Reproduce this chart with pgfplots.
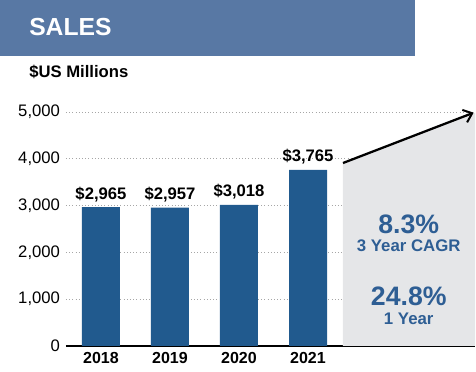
\documentclass[border=0pt]{standalone}
\usepackage{pgfplots}
\pgfplotsset{compat=1.18}
\usepackage{fontspec}
\setmainfont{Liberation Sans}
\usetikzlibrary{arrows.meta}
\definecolor{banner}{HTML}{5878A4}
\definecolor{barblue}{HTML}{215A8E}
\definecolor{graybg}{HTML}{E5E6E8}
\definecolor{txtblue}{HTML}{2E5E94}
\begin{document}
\begin{tikzpicture}
\path[use as bounding box] (0pt,0pt) rectangle (357pt,279pt);
\fill[banner] (0pt,279pt) rectangle (311.25pt,237pt);
\node[anchor=west,text=white,font=\fontsize{18.5}{22}\selectfont\bfseries,inner sep=0pt] at (21.75pt,258.75pt) {SALES};
\node[anchor=west,font=\fontsize{12.5}{14}\selectfont\bfseries,inner sep=0pt] at (21.75pt,225pt) {\$US Millions};
\begin{axis}[
  at={(49.5pt,19.5pt)}, anchor=south west,
  scale only axis, width=306.75pt, height=175.5pt,
  xmin=-0.507, xmax=5.42, ymin=0, ymax=5000,
  axis x line*=bottom, axis y line*=left,
  x axis line style={line width=1.6pt,-},
  y axis line style={draw=none},
  major tick length=0pt,
  xtick={0,1,2,3}, xticklabels={2018,2019,2020,2021},
  xticklabel style={font=\fontsize{12}{14}\selectfont\bfseries, yshift=-1pt},
  ytick={0,1000,2000,3000,4000,5000},
  yticklabel style={font=\fontsize{12.5}{14}\selectfont, xshift=-1pt},
  /pgf/number format/assume math mode=true,
  /pgf/number format/1000 sep={,},
  ymajorgrids,
  grid style={gray!70, line width=0.75pt, dash pattern=on 0.8pt off 1.6pt},
  clip=false,
]
\addplot[ybar, bar width=28.5pt, fill=barblue, draw=none,
  nodes near coords, point meta=explicit symbolic,
  every node near coord/.append style={font=\fontsize{12.5}{14}\selectfont\bfseries, anchor=base, yshift=6pt}]
  coordinates {(0,2965) [\$2,965] (1,2957) [\$2,957] (2,3018) [\$3,018] (3,3765) [\$3,765]};
\addplot[fill=graybg, draw=none] coordinates {(3.507,0) (3.507,3910) (5.42,4980) (5.42,0)} -- cycle;
\draw[line width=1.7pt, -{Straight Barb[length=6pt,width=10pt,line width=1.5pt]}] (axis cs:3.507,3910) -- (axis cs:5.40,4985);
\node[text=txtblue, font=\fontsize{20}{22}\selectfont\bfseries] at (axis cs:4.46,2600) {8.3\%};
\node[text=txtblue, font=\fontsize{12.6}{14}\selectfont\bfseries] at (axis cs:4.46,2140) {3 Year CAGR};
\node[text=txtblue, font=\fontsize{20}{22}\selectfont\bfseries] at (axis cs:4.46,1060) {24.8\%};
\node[text=txtblue, font=\fontsize{12.6}{14}\selectfont\bfseries] at (axis cs:4.46,590) {1 Year};
\end{axis}
\end{tikzpicture}
\end{document}
